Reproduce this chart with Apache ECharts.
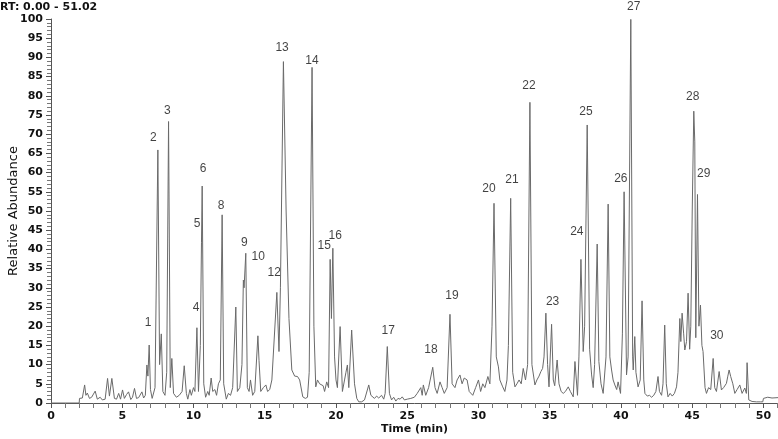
<!DOCTYPE html>
<html>
<head>
<meta charset="utf-8">
<script src="https://cdn.jsdelivr.net/npm/echarts@6/dist/echarts.min.js"></script>
<style>
  html, body { margin: 0; padding: 0; background: #fff; }
  #chart { width: 778px; height: 439px; }
</style>
</head>
<body>
<div id="chart"></div>
<script>
// retention time (min) and relative abundance (%)
const times = [
  0, 1.98, 2.0, 2.2, 2.36, 2.45, 2.55, 2.7, 2.85, 3.1, 3.25, 3.45, 3.6, 3.8, 3.97, 4.1, 4.27, 4.45, 4.6, 4.75,
  4.88, 5.02, 5.15, 5.3, 5.44, 5.6, 5.72, 5.86, 6.0, 6.15, 6.25, 6.38, 6.5, 6.62, 6.73, 6.8, 6.89, 6.98, 7.1, 7.3,
  7.5, 7.62, 7.74, 7.85, 8.0, 8.12, 8.25, 8.37, 8.48, 8.6, 8.8, 9.0, 9.2, 9.35, 9.5, 9.6, 9.75, 9.85, 10.0, 10.1,
  10.24, 10.35, 10.48, 10.56, 10.61, 10.72, 10.85, 11.0, 11.1, 11.24, 11.35, 11.5, 11.62, 11.75, 11.88, 12.01, 12.12, 12.3, 12.45, 12.6,
  12.75, 12.97, 13.08, 13.25, 13.4, 13.5, 13.55, 13.67, 13.78, 13.9, 14.0, 14.15, 14.3, 14.52, 14.6, 14.72, 14.9, 15.08, 15.2, 15.35,
  15.5, 15.6, 15.85, 16.0, 16.1, 16.31, 16.5, 16.7, 16.9, 17.1, 17.3, 17.45, 17.67, 17.85, 18.0, 18.12, 18.32, 18.45, 18.58, 18.7,
  18.85, 18.95, 19.1, 19.2, 19.35, 19.48, 19.59, 19.68, 19.78, 19.9, 20.0, 20.1, 20.29, 20.45, 20.6, 20.7, 20.8, 20.9, 21.1, 21.3,
  21.46, 21.6, 21.8, 22.0, 22.1, 22.3, 22.45, 22.55, 22.7, 22.85, 23.0, 23.2, 23.35, 23.45, 23.6, 23.75, 23.9, 24.05, 24.2, 24.35,
  24.5, 24.65, 24.8, 25.0, 25.25, 25.5, 25.7, 25.8, 25.95, 26.05, 26.13, 26.3, 26.5, 26.79, 26.95, 27.1, 27.3, 27.45, 27.6, 27.8,
  28.0, 28.15, 28.35, 28.5, 28.7, 28.85, 29.0, 29.2, 29.35, 29.6, 29.8, 30.0, 30.15, 30.3, 30.45, 30.66, 30.8, 30.95, 31.09, 31.25,
  31.4, 31.5, 31.7, 31.85, 32.0, 32.1, 32.26, 32.4, 32.56, 32.7, 32.85, 33.0, 33.14, 33.3, 33.45, 33.61, 33.75, 33.96, 34.1, 34.25,
  34.38, 34.5, 34.6, 34.73, 34.85, 34.95, 35.13, 35.25, 35.35, 35.52, 35.65, 35.8, 35.95, 36.1, 36.3, 36.45, 36.65, 36.77, 36.95, 37.05,
  37.19, 37.35, 37.45, 37.63, 37.8, 37.94, 38.05, 38.15, 38.33, 38.45, 38.6, 38.75, 38.85, 38.95, 39.1, 39.22, 39.34, 39.45, 39.57, 39.7,
  39.8, 39.97, 40.1, 40.22, 40.39, 40.5, 40.69, 40.82, 40.86, 40.97, 41.05, 41.2, 41.35, 41.48, 41.6, 41.68, 41.85, 42.0, 42.15, 42.3,
  42.45, 42.6, 42.7, 42.85, 42.95, 43.07, 43.18, 43.3, 43.45, 43.6, 43.75, 43.9, 44.0, 44.13, 44.2, 44.29, 44.4, 44.48, 44.6, 44.71,
  44.82, 44.9, 45.0, 45.11, 45.18, 45.25, 45.37, 45.47, 45.58, 45.68, 45.76, 45.9, 46.0, 46.15, 46.3, 46.47, 46.58, 46.7, 46.89, 47.05,
  47.2, 47.4, 47.5, 47.59, 47.7, 47.85, 47.99, 48.15, 48.34, 48.5, 48.69, 48.8, 48.85, 48.97, 49.2, 49.5, 49.8, 49.95, 50.0, 50.3,
  50.6, 51.02
];
const abundance = [
  0, 0, 1.2, 1.3, 4.7, 2.0, 2.6, 1.2, 1.5, 3.1, 1.0, 1.5, 0.8, 1.0, 6.4, 1.8, 6.4, 1.2, 1.0, 2.5,
  1.0, 3.4, 1.2, 2.2, 2.9, 0.9, 1.5, 3.8, 1.2, 1.4, 1.0, 2.9, 1.3, 2.0, 9.9, 7.0, 15.1, 3.5, 1.2, 4.0,
  65.9, 10, 18, 3, 2, 8, 73.3, 4, 11.6, 2.5, 1.5, 2.0, 3, 9.7, 2.5, 1.0, 3.5, 2.0, 4.0, 3.0,
  19.6, 3, 15, 41.7, 56.5, 5, 1.5, 3, 2, 6.5, 3, 3.5, 2, 5, 6, 49, 5, 1, 2.5, 2.0,
  4, 25, 3, 4, 10, 32, 30, 39, 4, 3, 6, 2, 3, 17.5, 11, 3, 4, 4.7, 3, 3.5,
  6, 5.5, 28.8, 13.4, 30, 88.9, 50, 22, 8.6, 7, 6.9, 6, 1.6, 1.2, 1.5, 8, 87.4, 20, 4.2, 6,
  5, 5.5, 4.5, 3, 5.5, 4, 37.4, 22, 40.3, 12, 6, 4, 19.9, 3, 6, 8, 9.9, 4, 19, 5,
  1.2, 0.3, 0.3, 0.8, 1.2, 4.7, 2, 2.5, 1.2, 1.8, 1.3, 2.0, 1.0, 2.5, 14.7, 2.5, 0.8, 1.5, 0.5, 1.2,
  1.0, 1.6, 0.8, 1.0, 1.2, 1.5, 2.5, 2, 4.0, 2, 4.7, 2.0, 4, 9.3, 4, 2.5, 5.5, 4, 2.5, 4,
  23.1, 5, 4, 6, 7.3, 5, 6.5, 6, 3, 2.0, 4, 6, 3, 5, 4, 6.9, 5, 20, 52, 12,
  9.4, 6, 4.2, 3, 6, 15, 53.3, 8, 4.2, 5, 6, 5, 9, 6, 10, 78.3, 10, 4.7, 6, 7,
  8.2, 9, 12, 23.4, 10, 4.2, 20.5, 6, 4.5, 11.2, 5, 3, 2.5, 3, 4.2, 3, 1.6, 10.8, 2, 12,
  37.4, 13.4, 20, 72.4, 14, 7.3, 4, 10, 41.4, 10.8, 5, 2.5, 3, 12, 51.8, 12, 8.6, 6, 4.7, 3.5,
  5.5, 2.5, 18, 55, 7.3, 12, 99.9, 12, 8.6, 17.3, 8, 4.2, 6, 26.6, 6, 2.5, 1.8, 2.0, 1.5, 2,
  3, 6.9, 3, 2, 5, 20.3, 5, 1.6, 2.5, 1.8, 2.5, 4.2, 8, 22, 16, 23.4, 18, 13.8, 16, 28.6,
  14, 20, 50, 76, 68, 17, 54.3, 20, 25.5, 15, 13.4, 4, 2.5, 4, 3.5, 11.6, 4, 3, 8.2, 3.4,
  4, 5.1, 7, 8.6, 6.9, 5, 2.5, 3.5, 4.7, 2.5, 3.9, 2.5, 10.5, 0.8, 0.4, 0.3, 0.3, 0.3, 1.2, 1.5,
  1.3, 1.4
];

// peak numbers and where their labels sit (time, abundance)
const peakNames = ['1','2','3','4','5','6','8','9','10','12','13','14','15','16','17','18','19','20',
  '21','22','23','24','25','26','27','28','29','30'];
const peakLabelT = [6.82, 7.18, 8.16, 10.19, 10.26, 10.68, 11.94, 13.56, 14.54, 15.66, 16.22, 18.32, 19.17, 19.94,
  23.66, 26.67, 28.14, 30.74, 32.35, 33.54, 35.2, 36.9, 37.54, 39.99, 40.9, 45.04, 45.81, 46.73];
const peakLabelV = [20.8, 69.0, 76.0, 24.7, 46.6, 60.9, 51.3, 41.7, 38.0, 33.9, 92.4, 89.1, 40.9, 43.5,
  18.75, 13.8, 27.9, 55.7, 58.1, 82.6, 26.3, 44.5, 75.8, 58.3, 103.1, 79.7, 59.6, 17.4];

const yTicks = { min: 0, max: 100, step: 5 };
const xTicks = { min: 0, max: 51.02, step: 5 };

const trace = times.map((t, i) => [t, abundance[i]]);
const labels = peakNames.map((n, i) => [peakLabelT[i], peakLabelV[i], n]);

const axisFont = 'DejaVu Sans';
const chart = echarts.init(document.getElementById('chart'));
chart.setOption({
  animation: false,
  title: {
    text: 'RT: 0.00 - 51.02',
    left: 0,
    top: 2,
    padding: 0,
    textStyle: { fontFamily: axisFont, fontSize: 11, fontWeight: 'bold', color: '#111' }
  },
  grid: { left: 51, right: 0, top: 19, bottom: 36, containLabel: false, outerBoundsMode: 'none' },
  xAxis: {
    type: 'value',
    min: xTicks.min,
    max: xTicks.max,
    interval: xTicks.step,
    name: 'Time (min)',
    nameLocation: 'middle',
    nameGap: 21,
    nameMoveOverlap: false,
    nameTextStyle: { fontFamily: axisFont, fontSize: 11, fontWeight: 'bold', color: '#111' },
    axisLine: { lineStyle: { color: '#555', width: 1 } },
    axisTick: { length: 5, lineStyle: { color: '#555' } },
    minorTick: { show: true, splitNumber: 5, length: 5, lineStyle: { color: '#777' } },
    axisLabel: {
      margin: 8,
      fontFamily: axisFont, fontSize: 11, fontWeight: 'bold', color: '#111',
      formatter: v => (v % 5 === 0 ? String(v) : '')
    },
    splitLine: { show: false }
  },
  yAxis: {
    type: 'value',
    min: yTicks.min,
    max: yTicks.max,
    interval: yTicks.step,
    name: 'Relative Abundance',
    nameLocation: 'middle',
    nameGap: 31,
    nameMoveOverlap: false,
    nameTextStyle: { fontFamily: axisFont, fontSize: 13, color: '#111' },
    axisLine: { show: true, lineStyle: { color: '#555', width: 1 } },
    axisTick: { show: true, length: 5, lineStyle: { color: '#555' } },
    minorTick: { show: true, splitNumber: 5, length: 4, lineStyle: { color: '#777' } },
    axisLabel: { margin: 8, fontFamily: axisFont, fontSize: 11, fontWeight: 'bold', color: '#111' },
    splitLine: { show: false }
  },
  series: [
    {
      type: 'line',
      data: trace,
      symbol: 'none',
      lineStyle: { color: '#6a6a6a', width: 1 }
    },
    {
      type: 'scatter',
      data: labels,
      symbolSize: 1,
      clip: false,
      itemStyle: { color: 'rgba(0,0,0,0)' },
      label: {
        show: true,
        position: 'inside',
        formatter: p => p.data[2],
        fontFamily: 'Liberation Sans, Arial',
        fontSize: 12,
        color: '#111'
      }
    }
  ]
});
</script>
</body>
</html>
